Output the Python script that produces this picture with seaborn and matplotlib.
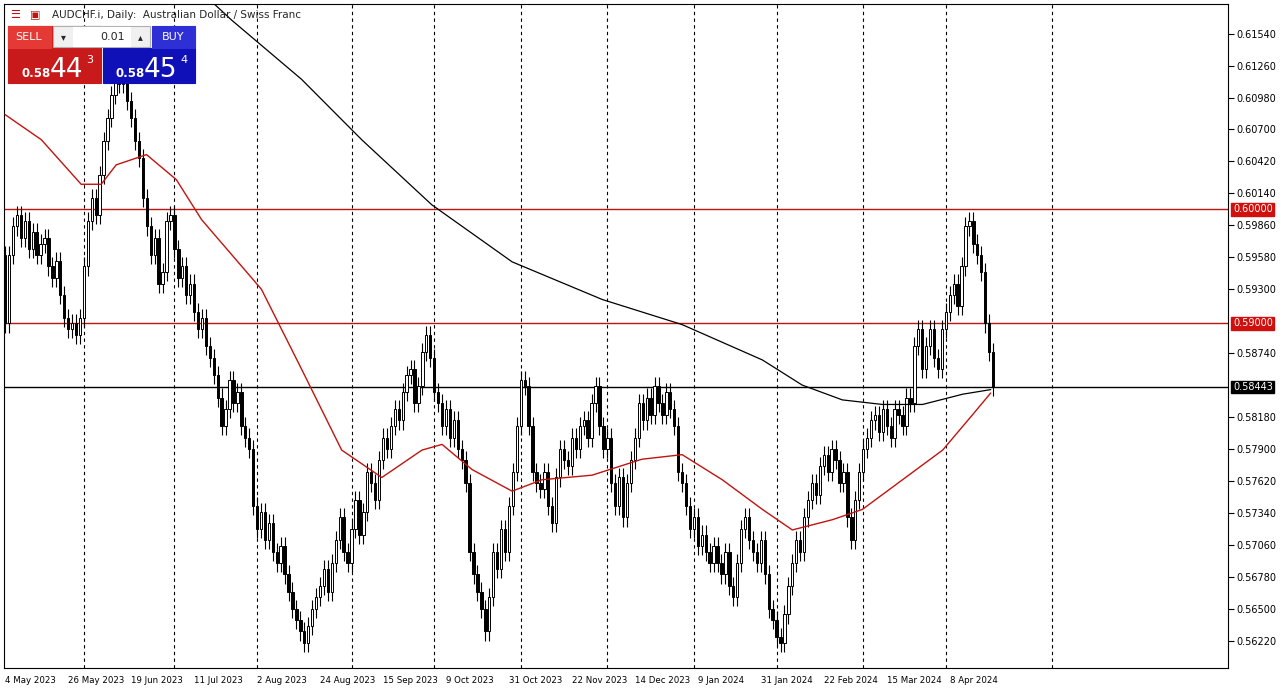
import numpy as np
import pandas as pd
import matplotlib
matplotlib.use("Agg")
import matplotlib.pyplot as plt
import matplotlib.patches as mpatches
import seaborn as sns

# daily closes, May 2023 - Apr 2024
closes = [
    0.5900, 0.5960, 0.5985, 0.5995, 0.5975, 0.5990, 0.5965, 0.5980, 0.5960, 0.5970,
    0.5975, 0.5950, 0.5940, 0.5955, 0.5925, 0.5905, 0.5895, 0.5900, 0.5890, 0.5905,
    0.5950, 0.5990, 0.6010, 0.5995, 0.6030, 0.6060, 0.6080, 0.6100, 0.6115, 0.6110,
    0.6125, 0.6095, 0.6080, 0.6060, 0.6045, 0.6010, 0.5985, 0.5960, 0.5975, 0.5935,
    0.5945, 0.5990, 0.5995, 0.5965, 0.5940, 0.5950, 0.5925, 0.5935, 0.5910, 0.5895,
    0.5905, 0.5880, 0.5870, 0.5855, 0.5835, 0.5810, 0.5825, 0.5850, 0.5830, 0.5840,
    0.5810, 0.5800, 0.5790, 0.5740, 0.5720, 0.5735, 0.5710, 0.5725, 0.5700, 0.5690,
    0.5705, 0.5680, 0.5665, 0.5650, 0.5640, 0.5630, 0.5620, 0.5635, 0.5650, 0.5660,
    0.5670, 0.5685, 0.5665, 0.5690, 0.5710, 0.5730, 0.5700, 0.5690, 0.5720, 0.5745,
    0.5715, 0.5735, 0.5770, 0.5760, 0.5745, 0.5780, 0.5800, 0.5790, 0.5810, 0.5825,
    0.5815, 0.5840, 0.5855, 0.5860, 0.5830, 0.5845, 0.5875, 0.5890, 0.5870, 0.5840,
    0.5830, 0.5810, 0.5825, 0.5800, 0.5815, 0.5790, 0.5780, 0.5760, 0.5700, 0.5680,
    0.5665, 0.5650, 0.5630, 0.5660, 0.5700, 0.5685, 0.5720, 0.5700, 0.5740, 0.5770,
    0.5810, 0.5850, 0.5845, 0.5810, 0.5770, 0.5760, 0.5755, 0.5770, 0.5740, 0.5725,
    0.5765, 0.5790, 0.5780, 0.5775, 0.5800, 0.5790, 0.5810, 0.5815, 0.5800, 0.5830,
    0.5845, 0.5810, 0.5790, 0.5800, 0.5760, 0.5740, 0.5765, 0.5730, 0.5760, 0.5780,
    0.5800, 0.5830, 0.5815, 0.5835, 0.5820, 0.5845, 0.5830, 0.5820, 0.5840, 0.5825,
    0.5810, 0.5770, 0.5760, 0.5740, 0.5720, 0.5730, 0.5705, 0.5715, 0.5700, 0.5690,
    0.5705, 0.5690, 0.5680, 0.5700, 0.5670, 0.5660, 0.5690, 0.5720, 0.5730, 0.5710,
    0.5700, 0.5690, 0.5710, 0.5680, 0.5650, 0.5640, 0.5625, 0.5620, 0.5645, 0.5670,
    0.5690, 0.5710, 0.5700, 0.5730, 0.5745, 0.5760, 0.5750, 0.5775, 0.5785, 0.5770,
    0.5790, 0.5780, 0.5760, 0.5770, 0.5730, 0.5710, 0.5745, 0.5770, 0.5790, 0.5800,
    0.5815, 0.5820, 0.5805, 0.5825, 0.5810, 0.5800, 0.5825, 0.5820, 0.5810, 0.5835,
    0.5830, 0.5880, 0.5895, 0.5860, 0.5880, 0.5895, 0.5870, 0.5860, 0.5895, 0.5910,
    0.5925, 0.5935, 0.5915, 0.5950, 0.5985, 0.5990, 0.5970, 0.5960, 0.5945, 0.5900,
    0.5875, 0.58443,
]
first_open = 0.5960

# moving averages, read at a few points (bar index, price)
red_ma_idx = [0, 9.2, 19.3, 24.4, 28.2, 35.9, 43.5, 49.9, 65.1, 75.3, 85.5, 95.7, 105.9, 111,
              118.6, 128.8, 136.4, 149.1, 161.8, 172, 182.2, 192.4, 200, 210.2, 217.8, 228,
              238.2, 245.8, 250.4]
red_ma_val = [0.6083, 0.6061, 0.6022, 0.6022, 0.6039, 0.6048, 0.6026, 0.5991, 0.5930, 0.5860,
              0.5789, 0.5765, 0.5789, 0.5794, 0.5772, 0.5753, 0.5763, 0.5767, 0.5781, 0.5785,
              0.5763, 0.5737, 0.5719, 0.5728, 0.5737, 0.5763, 0.5789, 0.5820, 0.5839]
blk_ma_idx = [50, 57.5, 75.3, 90.6, 108.4, 128.8, 151.7, 172, 192.4, 202.5, 212.7, 222.9,
              233.1, 243.3, 250.4]
blk_ma_val = [0.6190, 0.6166, 0.6114, 0.6061, 0.6004, 0.5954, 0.5921, 0.5899, 0.5868, 0.5846,
              0.5833, 0.5829, 0.5829, 0.5838, 0.5842]

date_labels = ["4 May 2023", "26 May 2023", "19 Jun 2023", "11 Jul 2023", "2 Aug 2023",
               "24 Aug 2023", "15 Sep 2023", "9 Oct 2023", "31 Oct 2023", "22 Nov 2023",
               "14 Dec 2023", "9 Jan 2024", "31 Jan 2024", "22 Feb 2024", "15 Mar 2024",
               "8 Apr 2024"]
price_ticks = [0.6154, 0.6126, 0.6098, 0.6070, 0.6042, 0.6014, 0.5986, 0.5958, 0.5930,
               0.5874, 0.5818, 0.5790, 0.5762, 0.5734, 0.5706, 0.5678, 0.5650, 0.5622]
levels = [0.6000, 0.5900]
last_price = 0.58443

sns.set_style("white")
plt.rcParams["font.family"] = ["DejaVu Sans"]

df = pd.DataFrame({"close": closes})
df["open"] = [first_open] + closes[:-1]
wick = 0.0008
df["high"] = df[["open", "close"]].max(axis=1) + wick
df["low"] = df[["open", "close"]].min(axis=1) - wick
df["i"] = np.arange(len(df))

fig = plt.figure(figsize=(12.85, 6.96), dpi=100)
ax = fig.add_axes([4 / 1285, 28 / 696, 1224 / 1285, 664 / 696])

ax.vlines(df["i"], df["low"], df["high"], color="black", lw=0.8, zorder=3)
up = df["close"] >= df["open"]
ax.bar(df["i"][up], (df["close"] - df["open"])[up], bottom=df["open"][up], width=0.6,
       color="white", edgecolor="black", lw=0.7, zorder=4)
ax.bar(df["i"][~up], (df["open"] - df["close"])[~up], bottom=df["close"][~up], width=0.6,
       color="black", edgecolor="black", lw=0.7, zorder=4)

sns.lineplot(x=red_ma_idx, y=red_ma_val, ax=ax, color="#c0140f", lw=1.0, zorder=5)
sns.lineplot(x=blk_ma_idx, y=blk_ma_val, ax=ax, color="black", lw=0.9, zorder=5)

for g in [20, 43, 64, 88, 109, 131, 153, 175, 196, 218, 239, 266]:
    ax.axvline(g, color="black", lw=0.8, ls=(0, (3, 3)), zorder=1)
for lv in levels:
    ax.axhline(lv, color="#c0140f", lw=1.0, zorder=2)
ax.axhline(last_price, color="black", lw=1.0, zorder=2)

ax.set_xlim(-0.3, 310.7)
ax.set_ylim(0.5598, 0.6180)
ax.yaxis.tick_right()
ax.set_yticks(price_ticks)
ax.set_yticklabels(["%.5f" % t for t in price_ticks], fontsize=7)
ax.set_xticks(np.arange(len(date_labels)) * 16)
ax.set_xticklabels(date_labels, fontsize=6.2, ha="left")
ax.tick_params(axis="both", length=4, width=0.8, direction="out", pad=2, colors="black")
for s in ax.spines.values():
    s.set_color("black")
    s.set_linewidth(0.8)

for lv, col in [(0.6, "#d0100c"), (0.59, "#d0100c"), (last_price, "black")]:
    ax.text(1.004, lv, "%.5f" % lv, transform=ax.get_yaxis_transform(), fontsize=7,
            color="white", va="center", ha="left",
            bbox=dict(boxstyle="square,pad=0.15", fc=col, ec=col))

# title + trade panel
fig.text(52 / 1285, 1 - 15 / 696, "AUDCHF.i, Daily:  Australian Dollar / Swiss Franc",
         fontsize=7.5, va="center")
fig.text(10 / 1285, 1 - 15 / 696, "\u2630", fontsize=8, color="#c0140f", va="center")
fig.text(30 / 1285, 1 - 15 / 696, "\u25a3", fontsize=8, color="#c0140f", va="center")


def box(x, y, w, h, fc, ec=None):
    fig.patches.append(mpatches.Rectangle((x / 1285, 1 - (y + h) / 696), w / 1285, h / 696,
                                          transform=fig.transFigure, fc=fc,
                                          ec=ec or fc, lw=0.8))


box(8, 26, 93, 57, "#c8191b")
box(8, 26, 43, 22, "#e53935")
box(103, 48, 92, 35, "#1010b8")
box(152, 26, 43, 22, "#2f2fd6")
box(53, 26, 97, 21, "#f0f0f0", "#b0b0b0")
box(73, 27, 57, 19, "white")
fig.text(29 / 1285, 1 - 37 / 696, "SELL", fontsize=8, color="white", ha="center", va="center")
fig.text(173 / 1285, 1 - 37 / 696, "BUY", fontsize=8, color="white", ha="center", va="center")
fig.text(125 / 1285, 1 - 37 / 696, "0.01", fontsize=8, ha="right", va="center")
fig.text(63 / 1285, 1 - 37 / 696, "\u25be", fontsize=7, ha="center", va="center")
fig.text(140 / 1285, 1 - 37 / 696, "\u25b4", fontsize=7, ha="center", va="center")
for x0, big, sup in [(21, "44", "3"), (115, "45", "4")]:
    fig.text(x0 / 1285, 1 - 77 / 696, "0.58", fontsize=8.5, color="white", weight="bold",
             va="baseline")
    fig.text((x0 + 29) / 1285, 1 - 77 / 696, big, fontsize=19, color="white", va="baseline")
    fig.text((x0 + 65) / 1285, 1 - 63 / 696, sup, fontsize=8, color="white", va="baseline")

fig.savefig("out.png", dpi=100)
